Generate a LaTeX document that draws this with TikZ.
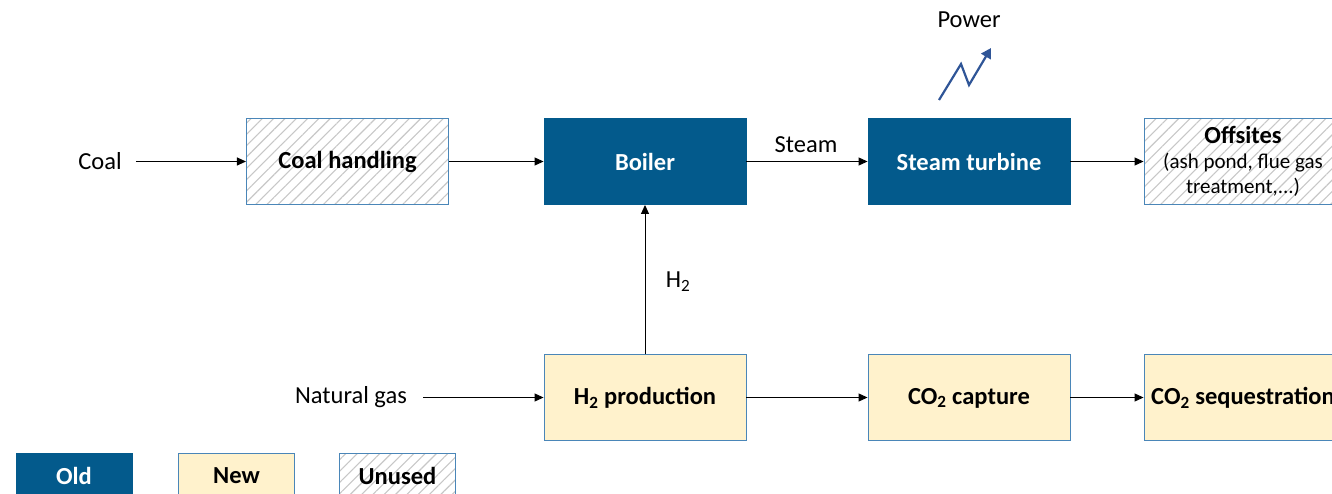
\documentclass[tikz,border=0pt]{standalone}
\usepackage{fontspec}
\setmainfont{Carlito}
\usetikzlibrary{arrows.meta,patterns.meta}
\definecolor{oldblue}{HTML}{035A8C}
\definecolor{newfill}{HTML}{FFF2CC}
\definecolor{edgeblue}{HTML}{4A86B8}
\definecolor{powerblue}{HTML}{2F5597}
\newcommand{\bigf}{\fontsize{24.5}{25}\selectfont}
\newcommand{\smallf}{\fontsize{21}{25}\selectfont}
\tikzset{
  box/.style={rectangle, minimum width=202pt, minimum height=86pt, inner sep=0pt, font=\bigf\bfseries, align=center, line width=0.9pt},
  oldbox/.style={box, fill=oldblue, draw=oldblue, text=white},
  newbox/.style={box, fill=newfill, draw=edgeblue, text=black},
  unusedbox/.style={box, draw=edgeblue, text=black, pattern={Lines[angle=45,distance=8pt,line width=1.1pt]}, pattern color=black!22},
  legbox/.style={minimum width=116pt, minimum height=44pt},
  lbl/.style={font=\bigf, inner sep=1pt},
  boxtext/.style={font=\bigf\bfseries, inner sep=0pt},
  flow/.style={line width=1pt, -{Triangle[length=9pt,width=8pt]}},
}
\begin{document}
\begin{tikzpicture}[x=1pt,y=-1pt]
\useasboundingbox (0,0) rectangle (1332,494);
\clip (0,0) rectangle (1332,494);
% main boxes
\node[unusedbox] (ch) at (347.5,161.5) {};
\node[unusedbox] (off) at (1245,161.5) {};
\node[oldbox] (boiler) at (645,161.5) {Boiler};
\node[oldbox] (st) at (969,161.5) {Steam turbine};
\node[newbox] (h2) at (645,397.5) {};
\node[newbox] (cap) at (969,397.5) {};
\node[newbox] (seq) at (1245,397.5) {};
% texts (separate so the pattern box does not hide them)
\node[boxtext] (cht) at (347.5,161.5) {Coal handling};
\node[font=\smallf, align=center, inner sep=0pt] (offt) at (1243,161.5) {{\bigf\bfseries Offsites}\\(ash pond, flue gas\\treatment,...)};
\node[boxtext] (h2t) at (645,398) {H\textsubscript{2} production};
\node[boxtext] (capt) at (969,398) {CO\textsubscript{2} capture};
\node[boxtext, anchor=west] (seqt) at (1151,398) {CO\textsubscript{2} sequestration};
% outside labels
\node[lbl] (coal) at (100,161.5) {Coal};
\node[lbl] (ng) at (351,397.5) {Natural gas};
\node[lbl] (power) at (969,20) {Power};
\node[lbl] (steam) at (806,145) {Steam};
\node[lbl] (h2l) at (678,282) {H\textsubscript{2}};
% flows
\draw[flow] (coal.east) ++(13,0) coordinate (c0) -- (ch.west);
\draw[flow] (ch) -- (boiler);
\draw[flow] (boiler) -- (st);
\draw[flow] (st) -- (off);
\draw[flow] (ng.east) ++(15,0) coordinate (n0) -- (h2.west);
\draw[flow] (h2) -- (boiler);
\draw[flow] (h2) -- (cap);
\draw[flow] (cap) -- (seq);
% power zigzag
\coordinate (z0) at (939,100);
\coordinate (z1) at (961,64);
\coordinate (z2) at (969,85);
\coordinate (z3) at (991,48);
\draw[powerblue, line width=2.2pt, -{Triangle[length=10pt,width=11pt]}] (z0) -- (z1) -- (z2) -- (z3);
% legend
\node[oldbox, legbox] (lold) at (74,475.5) {Old};
\node[newbox, legbox] (lnew) at (236.5,475.5) {New};
\node[unusedbox, legbox] (lun) at (397.5,475.5) {};
\node[boxtext] (lunt) at (397.5,475.5) {Unused};
\end{tikzpicture}
\end{document}
